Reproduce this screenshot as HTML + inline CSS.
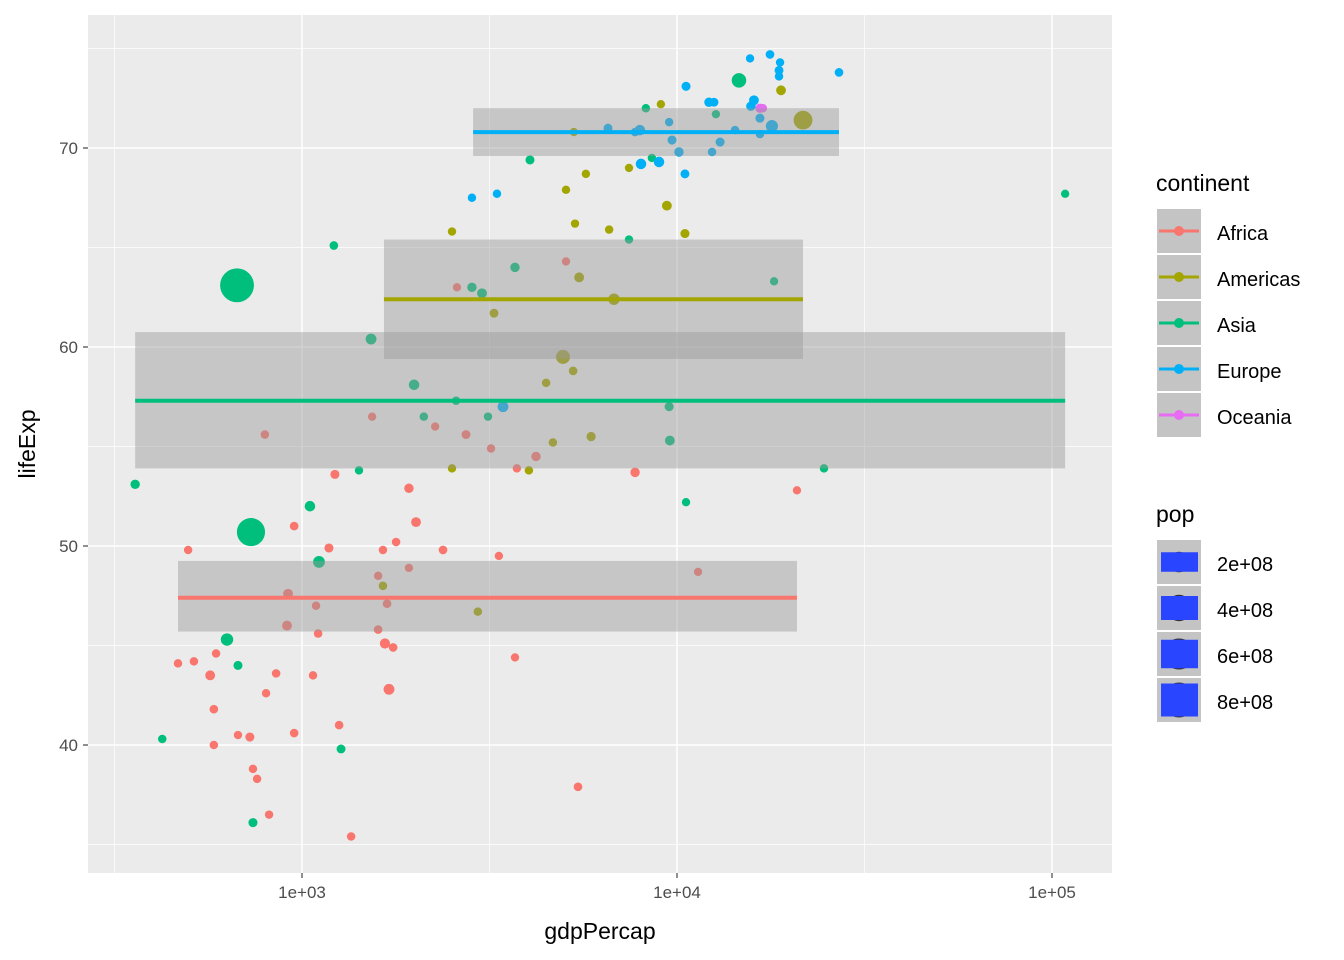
<!DOCTYPE html>
<html><head><meta charset="utf-8"><style>
body{margin:0;background:#fff;font-family:"Liberation Sans",sans-serif;}
</style></head><body>
<svg id="chart" width="1344" height="960" xmlns="http://www.w3.org/2000/svg" style="display:block">
<rect x="88" y="15" width="1024" height="858" fill="#EBEBEB"/>
<g id="grid"></g><g id="pts"></g><g id="ribs"></g><g id="axes"></g><g id="legend"></g>
</svg>
<script>
const continents=["Africa","Americas","Asia","Europe","Oceania"];
const colors=["#F8766D","#A3A500","#00BF7D","#00B0F6","#E76BF3"];
// [gdpPercap, lifeExp, pop(millions)]
const africa=[[497,49.8,2],[467,44.1,3],[515,44.2,3],[569,43.5,20],[590,44.6,3],[582,41.8,4],[582,40.0,3],[675,40.5,2],[726,40.4,10],[740,38.8,3],[759,38.3,3],[802,42.6,2],[817,36.5,2],[853,43.6,4],[953,40.6,4],[953,51.0,5],[918,47.6,20],[912,46.0,20],[796,55.6,3],[1070,43.5,3],[1090,47.0,3],[1104,45.6,3],[1180,49.9,10],[1224,53.6,10],[1256,41.0,4],[1352,35.4,3],[1538,56.5,1],[1596,48.5,2],[1596,45.8,4],[1644,49.8,2],[1664,45.1,25],[1686,47.1,5],[1706,42.8,35],[1750,44.9,5],[1782,50.2,4],[1928,52.9,15],[1928,48.9,1],[2014,51.2,20],[2265,56.0,1],[2377,49.8,5],[2590,63.0,1],[2737,55.6,8],[3192,54.9,2],[3350,49.5,1],[3698,44.4,1],[3741,53.9,2],[4207,54.5,15],[5058,64.3,1],[5445,37.9,5],[7730,53.7,15],[11380,48.7,1],[20890,52.8,1]];
const americas=[[1644,48.0,4],[2512,65.8,2],[2512,53.9,2],[2944,46.7,3],[3251,61.7,8],[4027,53.8,3],[4477,58.2,3],[4667,55.2,3],[4966,59.5,90],[5058,67.9,2],[5284,58.8,5],[5309,70.8,2],[5346,66.2,1],[5483,63.5,20],[5715,68.7,2],[5902,55.5,12],[6592,65.9,2],[6792,62.4,45],[7447,69.0,1],[9057,72.2,1],[9397,67.1,20],[10500,65.7,10],[18940,72.9,20],[21680,71.4,200]];
const asia=[[359,53.1,15],[424,40.3,3],[631,45.3,60],[675,44.0,10],[671,63.1,754],[731,50.7,506],[740,36.1,10],[1050,52.0,30],[1110,49.2,50],[1216,65.1,5],[1271,39.8,8],[1419,53.8,2],[1528,60.4,35],[1990,58.1,30],[2113,56.5,3],[2576,57.3,3],[2839,63.0,15],[3020,62.7,20],[3133,56.5,2],[3698,64.0,15],[4055,69.4,10],[7447,65.4,2],[8260,72.0,3],[8570,69.5,2],[9528,57.0,10],[9570,55.3,20],[10570,52.2,1],[12700,71.7,2],[14630,73.4,100],[18150,63.3,1],[24660,53.9,3],[108400,67.7,1]];
const europe=[[2839,67.5,2],[3311,67.7,2],[3436,57.0,35],[6546,71.0,8],[7730,70.8,3],[7960,70.9,30],[8017,69.2,30],[8954,69.3,30],[9528,71.3,2],[9700,70.4,10],[10120,69.8,15],[10570,73.1,10],[10500,68.7,8],[12170,72.3,15],[12550,72.3,8],[12400,69.8,3],[13030,70.3,10],[14280,70.9,3],[15660,74.5,1],[15740,72.1,15],[16040,72.4,20],[16640,71.5,10],[16640,70.7,3],[17700,74.7,5],[17910,71.1,55],[18710,73.9,8],[18830,74.3,2],[18710,73.6,3],[27040,73.8,5]];
const oceania=[[16640,72.0,12],[16940,72.0,3]];
// smooth ribbons: [xmin gdp, xmax gdp, mean, lower, upper]
const ribbonAfrica=[467,20890,47.4,45.7,49.25];
const ribbonAmericas=[1654,21680,62.4,59.4,65.4];
const ribbonAsia=[359,108400,57.3,53.9,60.75];
const ribbonEurope=[2860,27040,70.8,69.6,72.0];
const xTicks=[1000,10000,100000];
const xTickLabels=["1e+03","1e+04","1e+05"];
const yTicks=[40,50,60,70];
const popBreaks=[200,400,600,800];
const popLabels=["2e+08","4e+08","6e+08","8e+08"];

const NS="http://www.w3.org/2000/svg";
const X=v=>302+375*(Math.log10(v)-3);
const Y=v=>148-19.9*(v-70);
const R=p=>Math.sqrt(17+272*p/760);
function mk(tag,attrs,parent){const e=document.createElementNS(NS,tag);for(const k in attrs)e.setAttribute(k,attrs[k]);parent.appendChild(e);return e;}
const grid=document.getElementById('grid');
[2.5,3.5,4.5].forEach(l=>{const x=X(Math.pow(10,l));const e=mk('line',{x1:x,x2:x,y1:15,y2:873,stroke:'#fff','stroke-width':0.7},grid);});
[35,45,55,65,75].forEach(v=>{const e=mk('line',{x1:88,x2:1112,y1:Y(v),y2:Y(v),stroke:'#fff','stroke-width':0.7},grid);});
xTicks.forEach(v=>{const e=mk('line',{x1:X(v),x2:X(v),y1:15,y2:873,stroke:'#fff','stroke-width':1.5},grid);});
yTicks.forEach(v=>{const e=mk('line',{x1:88,x2:1112,y1:Y(v),y2:Y(v),stroke:'#fff','stroke-width':1.5},grid);});
const pts=document.getElementById('pts');
[africa,americas,asia,europe,oceania].forEach((arr,i)=>arr.forEach(d=>{const c=mk('circle',{cx:X(d[0]),cy:Y(d[1]),r:R(d[2]),fill:colors[i]},pts);}));
const ribs=document.getElementById('ribs');
[ribbonAfrica,ribbonAmericas,ribbonAsia,ribbonEurope].forEach((r,i)=>{
 const x1=X(r[0]),x2=X(r[1]);
 const b=mk('rect',{x:x1,y:Y(r[4]),width:x2-x1,height:Y(r[3])-Y(r[4]),fill:'rgba(153,153,153,0.45)'},ribs);
 
 const l=mk('line',{x1:x1,x2:x2,y1:Y(r[2]),y2:Y(r[2]),stroke:colors[i],'stroke-width':4},ribs);
 
});
const axes=document.getElementById('axes');
xTicks.forEach((v,i)=>{const t=mk('line',{x1:X(v),x2:X(v),y1:873,y2:878,stroke:'#333','stroke-width':1.1},axes);
 const s=mk('text',{x:X(v),y:898,'text-anchor':'middle','font-size':17,fill:'#4D4D4D'},axes);s.textContent=xTickLabels[i];});
yTicks.forEach(v=>{const t=mk('line',{x1:83,x2:88,y1:Y(v),y2:Y(v),stroke:'#333','stroke-width':1.1},axes);
 const s=mk('text',{x:78,y:Y(v)+6,'text-anchor':'end','font-size':17,fill:'#4D4D4D'},axes);s.textContent=v;});
let t=mk('text',{x:600,y:939,'text-anchor':'middle','font-size':23,fill:'#000'},axes);t.textContent='gdpPercap';
t=mk('text',{x:35,y:444,'text-anchor':'middle','font-size':23,fill:'#000',transform:'rotate(-90 35 444)'},axes);t.textContent='lifeExp';
const lg=document.getElementById('legend');
t=mk('text',{x:1156,y:191,'font-size':23},lg);t.textContent='continent';
continents.forEach((c,i)=>{const y0=209+46*i;
 const b=mk('rect',{x:1157,y:y0,width:44,height:44,fill:'#C4C4C4'},lg);
 const l=mk('line',{x1:1159,x2:1199,y1:y0+22,y2:y0+22,stroke:colors[i],'stroke-width':3},lg);
 const p=mk('circle',{cx:1179,cy:y0+22,r:5,fill:colors[i]},lg);
 const s=mk('text',{x:1217,y:y0+31,'font-size':20},lg);s.textContent=c;});
t=mk('text',{x:1156,y:522,'font-size':23},lg);t.textContent='pop';
popBreaks.forEach((p,i)=>{const y0=540+46*i;
 const b=mk('rect',{x:1157,y:y0,width:44,height:44,fill:'#C4C4C4'},lg);
 const r=R(p)+2;const c=mk('circle',{cx:1179,cy:y0+22,r:r*0.9,fill:'#333'},lg);
 const h=15+4.5*(i+1);const q=mk('rect',{x:1161,y:y0+22-h/2,width:37,height:h,fill:'#2A45FF'},lg);
 const s=mk('text',{x:1217,y:y0+31,'font-size':20},lg);s.textContent=popLabels[i];});
</script>
</body></html>
